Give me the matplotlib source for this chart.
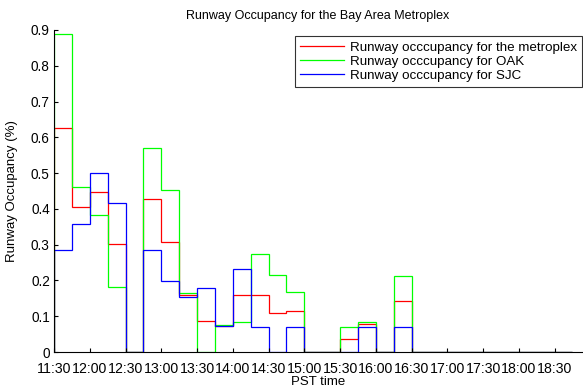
import numpy as np
import matplotlib
matplotlib.use("Agg")
import matplotlib.pyplot as plt

# 15-minute bins starting at 11:30, x in minutes after 11:30
bin_minutes = 15
n_bins = 29
tick_labels = ["11:30", "12:00", "12:30", "13:00", "13:30", "14:00", "14:30",
               "15:00", "15:30", "16:00", "16:30", "17:00", "17:30", "18:00", "18:30"]

metroplex = [0.625, 0.406, 0.448, 0.303, 0.0, 0.428, 0.307, 0.160, 0.086, 0.074,
             0.159, 0.159, 0.108, 0.116, 0.0, 0.0, 0.036, 0.077, 0.0, 0.143,
             0.0, 0.0, 0.0, 0.0, 0.0, 0.0, 0.0, 0.0, 0.0]
oak = [0.888, 0.460, 0.384, 0.182, 0.0, 0.571, 0.454, 0.165, 0.0, 0.076,
       0.083, 0.273, 0.215, 0.167, 0.0, 0.0, 0.071, 0.083, 0.0, 0.213,
       0.0, 0.0, 0.0, 0.0, 0.0, 0.0, 0.0, 0.0, 0.0]
sjc = [0.285, 0.357, 0.499, 0.416, 0.0, 0.285, 0.199, 0.154, 0.180, 0.072,
       0.231, 0.071, 0.0, 0.071, 0.0, 0.0, 0.0, 0.071, 0.0, 0.071,
       0.0, 0.0, 0.0, 0.0, 0.0, 0.0, 0.0, 0.0, 0.0]

plt.rcParams["font.family"] = ["Liberation Sans", "DejaVu Sans"]
plt.rcParams["font.size"] = 9.5

edges = np.arange(n_bins + 1) * bin_minutes

fig = plt.figure(figsize=(5.83, 3.89), dpi=100)
ax = fig.add_axes([0.0926, 0.0951, 0.9057, 0.8278])

ax.stairs(metroplex, edges, color="#ff0000", linewidth=0.9,
          label="Runway occcupancy for the metroplex")
ax.stairs(oak, edges, color="#00ff00", linewidth=0.9,
          label="Runway occcupancy for OAK")
ax.stairs(sjc, edges, color="#0000ff", linewidth=0.9,
          label="Runway occcupancy for SJC")

ax.set_xlim(0, 443)
ax.set_ylim(0, 0.9)
ax.set_xticks(np.arange(len(tick_labels)) * 30)
ax.set_xticklabels(tick_labels, fontsize=10.2)
ax.set_yticks(np.arange(0, 0.91, 0.1))
ax.set_yticklabels(["0"] + [f"{v:.1f}" for v in np.arange(0.1, 0.91, 0.1)],
                   fontsize=9.8)
ax.tick_params(direction="in", length=3, width=0.8)
ax.tick_params(axis="x", pad=7)
ax.tick_params(axis="y", pad=3)

for side in ("top", "right"):
    ax.spines[side].set_visible(False)
for side in ("left", "bottom"):
    ax.spines[side].set_linewidth(0.8)

ax.set_title("Runway Occupancy for the Bay Area Metroplex", fontsize=9, pad=8)
ax.set_xlabel("PST time", fontsize=9.5, labelpad=0)
ax.set_ylabel("Runway Occupancy (%)", fontsize=9.5, labelpad=9)

leg = ax.legend(loc="upper right", bbox_to_anchor=(1.0, 0.98), frameon=True,
                fancybox=False, fontsize=9.6, handlelength=3.3,
                handletextpad=0.4, labelspacing=0.12, borderpad=0.4,
                borderaxespad=0.0)
leg.get_frame().set_edgecolor("black")
leg.get_frame().set_linewidth(0.8)

fig.savefig("out.png", dpi=100)
